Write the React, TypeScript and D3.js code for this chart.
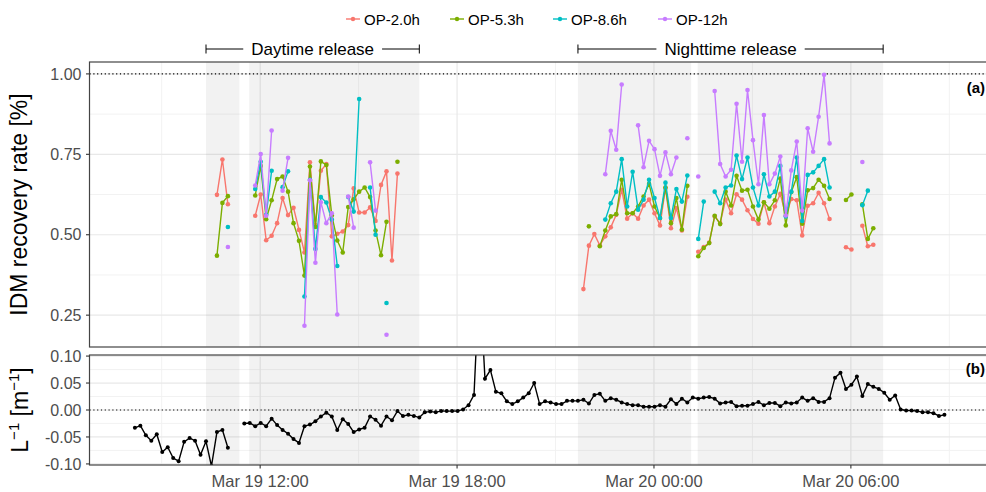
import React from 'react'
import * as d3 from 'd3'

// 10-minute time grid, slot 0 = Mar 19 08:11
const T0 = new Date(2019, 2, 19, 8, 11)
const STEP_MIN = 10

const seriesNames = ['OP-2.0h', 'OP-5.3h', 'OP-8.6h', 'OP-12h']
const seriesColors = ['#F8766D', '#7CAE00', '#00BFC4', '#C77CFF']

const _ = null
// panel (a) series start at slot 15 (10:41)
const OP_START = 15
const op20 = [
  0.624, 0.734, 0.595, _, _, _, _,
  0.559, 0.625, 0.483, 0.497, 0.536, 0.614, 0.561, 0.584, 0.515, 0.445, 0.725, 0.53, 0.699, 0.720, 0.495, 0.503, 0.510, 0.53, 0.644, 0.569, 0.569, 0.585, 0.543, 0.655, 0.697, 0.420, 0.690,
  _, _, _, _, _, _, _, _, _, _, _, _, _, _, _, _, _, _, _, _, _, _, _, _, _, _, _, _, _, _, _, _, _,
  0.331, 0.466, 0.502, 0.467, 0.495, 0.523, 0.562, 0.640, 0.550, 0.567, 0.550, 0.591, 0.609, 0.567, 0.529, 0.645, 0.520, 0.583, 0.513, 0.618, _,
  0.447, 0.462, 0.476, 0.557, 0.536, 0.609, 0.567, 0.626, 0.609, 0.576, 0.549, 0.534, 0.601, 0.536, 0.588, 0.627, 0.559, 0.611, 0.607, 0.498, 0.590, 0.598, 0.630, 0.598, 0.549,
  _, _, 0.461, 0.454, _, 0.528, 0.464, 0.469,
]
const op53 = [
  0.435, 0.599, 0.620, _, _, _, _,
  0.622, 0.714, 0.548, 0.607, 0.673, 0.681, 0.634, 0.536, 0.481, 0.373, 0.712, 0.524, 0.728, 0.717, 0.56, 0.482, 0.445, 0.586, 0.61, 0.634, 0.647, 0.617, 0.513, 0.436, 0.540, _, 0.727,
  _, _, _, _, _, _, _, _, _, _, _, _, _, _, _, _, _, _, _, _, _, _, _, _, _, _, _, _, _, _, _, _, _,
  _, 0.526, _, 0.464, 0.513, 0.557, 0.564, 0.671, 0.567, 0.567, 0.588, 0.619, 0.658, 0.588, 0.552, 0.647, 0.536, 0.614, 0.516, 0.652, _,
  0.433, 0.459, 0.474, 0.559, 0.533, 0.634, 0.591, 0.683, 0.637, 0.640, 0.588, 0.547, 0.601, 0.581, 0.607, 0.675, 0.529, 0.633, 0.679, 0.534, 0.638, 0.645, 0.671, 0.652, 0.611,
  _, _, 0.608, 0.625, _, 0.595, 0.487, 0.520,
]
const op86 = [
  _, _, 0.524, _, _, _, _,
  0.642, 0.727, 0.562, 0.699, _, 0.648, 0.697, _, _, 0.308, 0.671, 0.456, 0.617, 0.600, 0.547, 0.403, _, 0.617, 0.572, 0.922, _, 0.647, 0.500, _, 0.288, _, _,
  _, _, _, _, _, _, _, _, _, _, _, _, _, _, _, _, _, _, _, _, _, _, _, _, _, _, _, _, _, _, _, _, _,
  _, _, _, _, 0.547, 0.598, 0.634, 0.735, 0.588, 0.696, 0.578, 0.609, 0.671, 0.614, 0.552, 0.662, 0.552, 0.642, 0.603, 0.684, _,
  0.487, 0.603, _, 0.634, 0.598, 0.647, 0.653, 0.746, 0.673, 0.740, 0.647, 0.591, 0.688, 0.619, 0.634, 0.714, 0.557, 0.634, 0.740, 0.543, 0.686, 0.694, 0.714, 0.735, 0.647,
  _, _, _, _, _, 0.592, 0.637, _,
]
const op12 = [
  _, _, 0.462, _, _, _, _,
  0.653, 0.751, 0.559, 0.824, _, 0.637, 0.739, _, _, 0.217, 0.669, 0.413, 0.601, 0.536, 0.567, 0.252, _, 0.619, 0.522, _, _, 0.725, 0.575, _, 0.189, _, _,
  _, _, _, _, _, _, _, _, _, _, _, _, _, _, _, _, _, _, _, _, _, _, _, _, _, _, _, _, _, _, _, _, _,
  _, _, _, _, 0.688, 0.823, 0.764, 0.967, _, _, 0.840, 0.710, 0.792, 0.766, 0.683, 0.756, 0.688, 0.740, _, 0.800, _,
  0.681, _, _, 0.947, 0.720, 0.681, 0.702, 0.907, 0.727, 0.950, 0.794, 0.657, 0.872, 0.657, 0.690, 0.743, 0.560, 0.700, 0.790, 0.575, 0.831, 0.758, 0.867, 0.997, 0.784,
  _, _, _, _, _, 0.726, _, _,
]
const opSeries = [op20, op53, op86, op12]

// panel (b): L^-1 [m^-1], starts at slot 0
const invL = [
  -0.033, -0.029, -0.047, -0.057, -0.045, -0.078, -0.069, -0.089, -0.095, -0.059, -0.052, -0.057, -0.083, -0.058, -0.104, -0.041, -0.037, -0.070, _, _,
  -0.025, -0.024, -0.030, -0.024, -0.030, -0.016, -0.028, -0.037, -0.044, -0.054, -0.061, -0.030, -0.027, -0.021, -0.012, -0.005, -0.012, -0.037, -0.017, -0.026,
  -0.041, -0.036, -0.033, -0.012, -0.018, -0.029, -0.012, -0.019, -0.002, -0.011, -0.009, -0.011, -0.014, -0.004, -0.003, -0.004, -0.002, -0.002, -0.002, -0.002,
  0.001, 0.009, 0.028, 0.25, 0.058, 0.074, 0.034, 0.031, 0.016, 0.011, 0.016, 0.023, 0.031, 0.050, 0.011, 0.016, 0.014, 0.011, 0.011, 0.017,
  0.017, 0.017, 0.019, 0.012, 0.028, 0.030, 0.017, 0.022, 0.019, 0.014, 0.011, 0.009, 0.009, 0.006, 0.006, 0.006, 0.009, 0.006, 0.020, 0.011,
  0.021, 0.014, 0.023, 0.021, 0.023, 0.024, 0.021, 0.012, 0.014, 0.015, 0.007, 0.008, 0.008, 0.011, 0.015, 0.009, 0.013, 0.013, 0.007, 0.014,
  0.012, 0.014, 0.023, 0.017, 0.022, 0.015, 0.015, 0.022, 0.060, 0.069, 0.039, 0.047, 0.062, 0.026, 0.048, 0.043, 0.039, 0.032, 0.019, 0.027,
  0.001, -0.001, -0.001, -0.002, -0.004, -0.004, -0.006, -0.011, -0.009,
]

const parse = d3.timeParse('%Y-%m-%d %H:%M')
const releases = [
  ['2019-03-19 10:21', '2019-03-19 11:22'],
  ['2019-03-19 11:40', '2019-03-19 16:51'],
  ['2019-03-19 21:41', '2019-03-20 01:08'],
  ['2019-03-20 01:20', '2019-03-20 06:59'],
]
const releaseLabels = [
  { label: 'Daytime release', from: '2019-03-19 10:21', to: '2019-03-19 16:51' },
  { label: 'Nighttime release', from: '2019-03-19 21:41', to: '2019-03-20 06:59' },
]
const xMajor = ['2019-03-19 12:00', '2019-03-19 18:00', '2019-03-20 00:00', '2019-03-20 06:00']
const xMinor = ['2019-03-19 09:00', '2019-03-19 15:00', '2019-03-19 21:00', '2019-03-20 03:00', '2019-03-20 09:00']
const xDomain = ['2019-03-19 06:48', '2019-03-20 10:18']
const yTicksA = [0.25, 0.5, 0.75, 1.0]
const yMinorA = [0.375, 0.625, 0.875]
const yTicksB = [-0.1, -0.05, 0, 0.05, 0.1]
const yMinorB = [-0.075, -0.025, 0.025, 0.075]

const W = 986
const H = 492
const FONT = '"Liberation Sans", Arial, Helvetica, sans-serif'
const left = 89.5
const right = 992
const aTop = 62, aBot = 347
const bTop = 355, bBot = 465

const slotTime = (i: number) => d3.timeMinute.offset(T0, i * STEP_MIN)

function textWidth(s: string, size: number) {
  const c = document.createElement('canvas').getContext('2d')!
  c.font = `${size}px "Liberation Sans", Arial`
  return c.measureText(s).width
}

export default function App() {
  const x = d3.scaleTime().domain(xDomain.map(d => parse(d)!)).range([left, right])
  const yA = d3.scaleLinear().domain([0.151, 1.037]).range([aBot, aTop])
  const yB = d3.scaleLinear().domain([-0.102, 0.102]).range([bBot, bTop])

  const lineA = d3.line<any>().defined(d => d.v != null).x(d => x(d.t)).y(d => yA(d.v))
  const lineB = d3.line<any>().defined(d => d.v != null).x(d => x(d.t)).y(d => yB(d.v))

  const opData = opSeries.map(s => s.map((v, k) => ({ t: slotTime(OP_START + k), v })))
  const bData = invL.map((v, i) => ({ t: slotTime(i), v }))

  const panelBg = (top: number, bot: number, yMaj: number[], yMin: number[], ys: any) => (
    <g>
      <rect x={left} y={top} width={right - left} height={bot - top} fill="#fff" />
      {xMinor.map(d => <line key={'xm' + d} x1={x(parse(d)!)} x2={x(parse(d)!)} y1={top} y2={bot} stroke="#F0F0F0" strokeWidth={0.9} />)}
      {yMin.map(v => <line key={'ym' + v} x1={left} x2={right} y1={ys(v)} y2={ys(v)} stroke="#F0F0F0" strokeWidth={0.9} />)}
      {xMajor.map(d => <line key={'xM' + d} x1={x(parse(d)!)} x2={x(parse(d)!)} y1={top} y2={bot} stroke="#E8E8E8" strokeWidth={1.2} />)}
      {yMaj.map(v => <line key={'yM' + v} x1={left} x2={right} y1={ys(v)} y2={ys(v)} stroke="#E8E8E8" strokeWidth={1.2} />)}
      {releases.map(([a, b]) => (
        <rect key={a} x={x(parse(a)!)} y={top} width={x(parse(b)!) - x(parse(a)!)} height={bot - top} fill="#808080" fillOpacity={0.1} />
      ))}
    </g>
  )

  return (
    <svg width={W} height={H} style={{ position: 'absolute', left: 0, top: 0, fontFamily: FONT }}>
      <defs>
        <clipPath id="clipA"><rect x={left} y={aTop} width={right - left} height={aBot - aTop} /></clipPath>
        <clipPath id="clipB"><rect x={left} y={bTop} width={right - left} height={bBot - bTop} /></clipPath>
      </defs>
      <rect width={W} height={H} fill="#fff" />

      {/* legend */}
      {(() => {
        const keyX = [353, 457, 560, 665]
        return seriesNames.map((n, i) => (
          <g key={n}>
            <line x1={keyX[i] - 7} x2={keyX[i] + 7} y1={19} y2={19} stroke={seriesColors[i]} strokeWidth={1.4} />
            <circle cx={keyX[i]} cy={19} r={2.2} fill={seriesColors[i]} />
            <text x={keyX[i] + 11} y={24.5} fontSize={15} fill="#000">{n}</text>
          </g>
        ))
      })()}

      {/* release brackets */}
      {releaseLabels.map(r => {
        const x1 = x(parse(r.from)!), x2 = x(parse(r.to)!)
        const mid = (x1 + x2) / 2
        const tw = textWidth(r.label, 17)
        return (
          <g key={r.label} stroke="#000" strokeWidth={1}>
            <line x1={x1} x2={mid - tw / 2 - 8} y1={49} y2={49} />
            <line x1={mid + tw / 2 + 8} x2={x2} y1={49} y2={49} />
            <line x1={x1} x2={x1} y1={44.5} y2={53.5} />
            <line x1={x2} x2={x2} y1={44.5} y2={53.5} />
            <text x={mid} y={55} textAnchor="middle" fontSize={17} stroke="none" fill="#000">{r.label}</text>
          </g>
        )
      })}

      {/* panel (a) */}
      {panelBg(aTop, aBot, yTicksA, yMinorA, yA)}
      <line x1={left} x2={right} y1={yA(1)} y2={yA(1)} stroke="#000" strokeWidth={1.1} strokeDasharray="1.2,2.6" />
      <g clipPath="url(#clipA)">
        {opData.map((s, i) => (
          <g key={i}>
            <path d={lineA(s)!} fill="none" stroke={seriesColors[i]} strokeWidth={1.4} />
            {s.filter(d => d.v != null).map((d, k) => (
              <circle key={k} cx={x(d.t)} cy={yA(d.v as number)} r={2.3} fill={seriesColors[i]} />
            ))}
          </g>
        ))}
      </g>
      <rect x={left} y={aTop} width={right - left} height={aBot - aTop} fill="none" stroke="#444" strokeWidth={1.2} />
      <text x={985} y={93} textAnchor="end" fontSize={15} fontWeight="bold">(a)</text>
      {yTicksA.map(v => (
        <g key={v}>
          <line x1={left - 3.5} x2={left} y1={yA(v)} y2={yA(v)} stroke="#333" strokeWidth={1.1} />
          <text x={left - 8} y={yA(v) + 5.6} textAnchor="end" fontSize={16} fill="#4D4D4D">{v.toFixed(2)}</text>
        </g>
      ))}
      <text transform={`translate(27,${(aTop + aBot) / 2}) rotate(-90)`} textAnchor="middle" fontSize={23} fill="#000">IDM recovery rate [%]</text>

      {/* panel (b) */}
      {panelBg(bTop, bBot, yTicksB, yMinorB, yB)}
      <line x1={left} x2={right} y1={yB(0)} y2={yB(0)} stroke="#000" strokeWidth={1.1} strokeDasharray="1.2,2.6" />
      <g clipPath="url(#clipB)">
        <path d={lineB(bData)!} fill="none" stroke="#000" strokeWidth={1.4} />
        {bData.filter(d => d.v != null).map((d, k) => (
          <circle key={k} cx={x(d.t)} cy={yB(d.v as number)} r={2} fill="#000" />
        ))}
      </g>
      <rect x={left} y={bTop} width={right - left} height={bBot - bTop} fill="none" stroke="#444" strokeWidth={1.2} />
      <text x={985} y={374} textAnchor="end" fontSize={15} fontWeight="bold">(b)</text>
      {yTicksB.map(v => (
        <g key={v}>
          <line x1={left - 3.5} x2={left} y1={yB(v)} y2={yB(v)} stroke="#333" strokeWidth={1.1} />
          <text x={left - 8} y={yB(v) + 5.6} textAnchor="end" fontSize={16} fill="#4D4D4D">{v.toFixed(2)}</text>
        </g>
      ))}
      <text transform={`translate(28,${(bTop + bBot) / 2}) rotate(-90)`} textAnchor="middle" fontSize={23} fill="#000">
        L<tspan fontSize={15} dy={-9}>−1</tspan><tspan dy={9}> [m</tspan><tspan fontSize={15} dy={-9}>−1</tspan><tspan dy={9}>]</tspan>
      </text>

      {/* x axis */}
      {xMajor.map(d => {
        const px = x(parse(d)!)
        return (
          <g key={d}>
            <line x1={px} x2={px} y1={bBot} y2={bBot + 3.5} stroke="#333" strokeWidth={1.1} />
            <text x={px} y={487} textAnchor="middle" fontSize={16.5} fill="#4D4D4D">{d3.timeFormat('%b %d %H:%M')(parse(d)!)}</text>
          </g>
        )
      })}
    </svg>
  )
}
